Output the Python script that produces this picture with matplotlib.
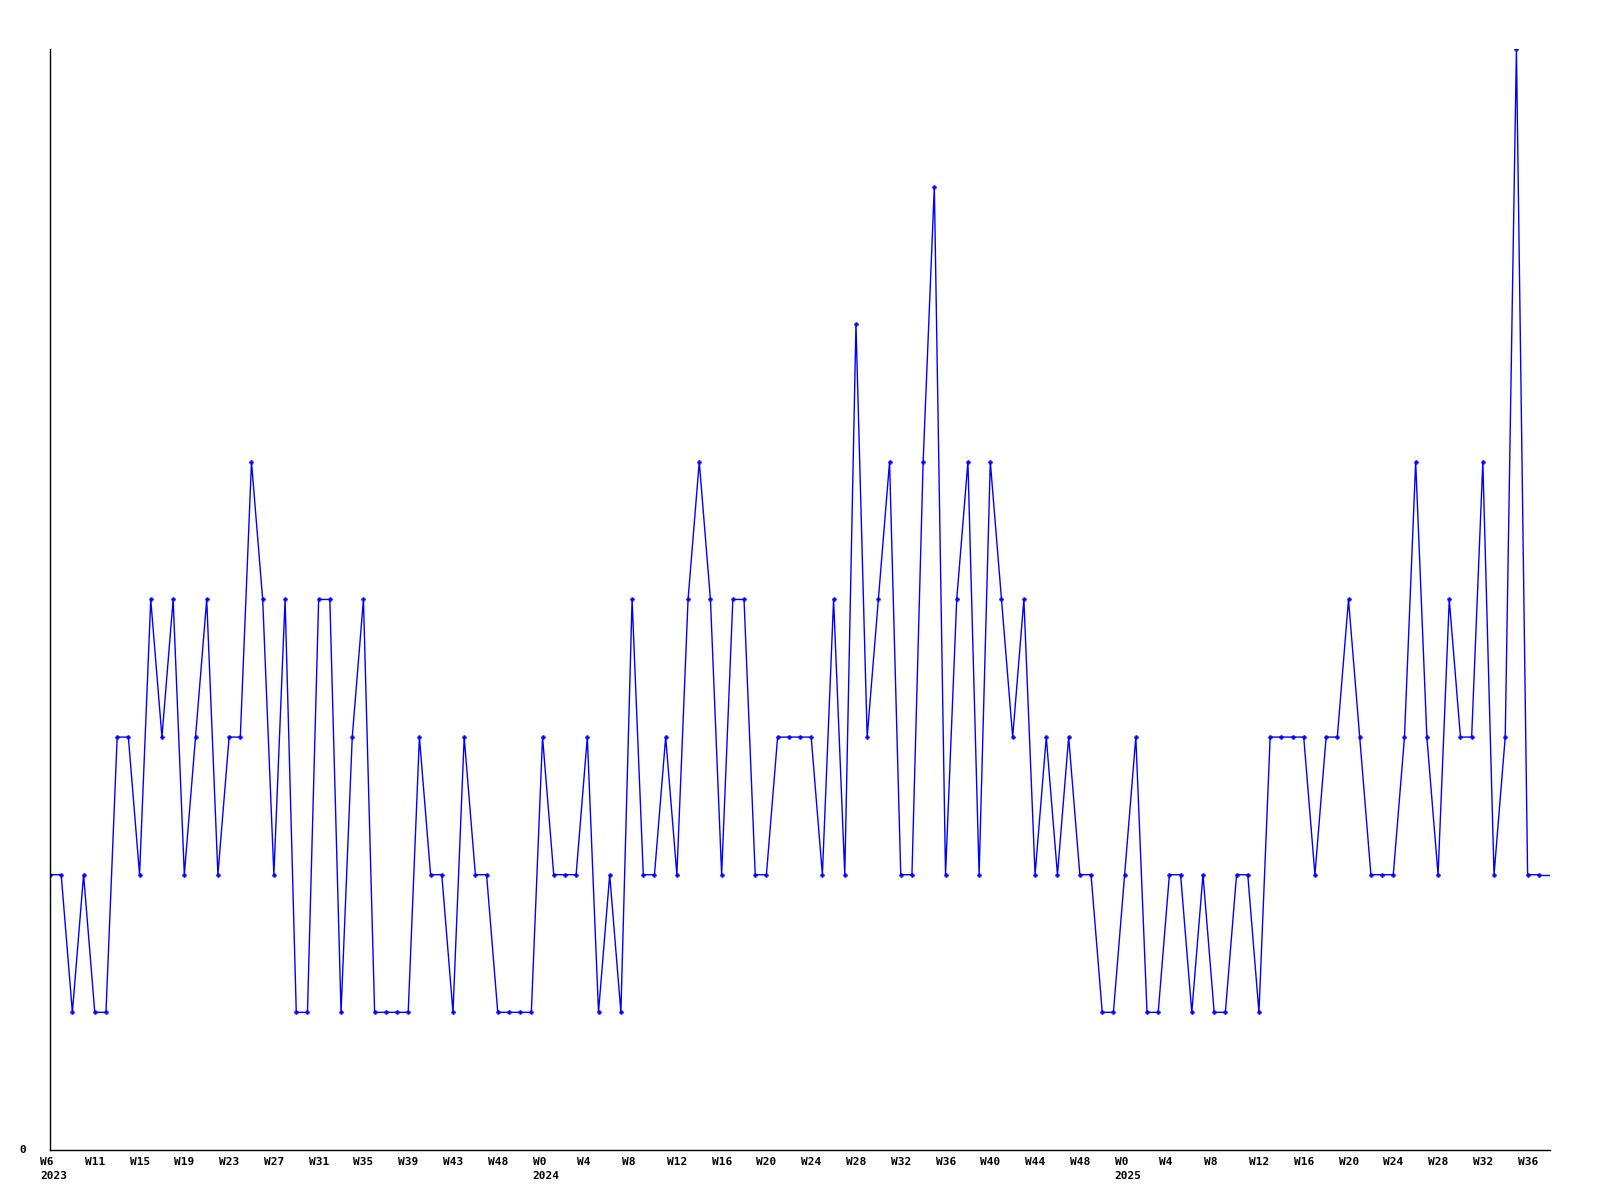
import matplotlib
matplotlib.use("Agg")
import matplotlib.pyplot as plt
import matplotlib.transforms as mtransforms

# weekly counts, 2023 W6 .. 2025 W37
counts = [2, 2, 1, 2, 1, 1, 3, 3, 2, 4,
          3, 4, 2, 3, 4, 2, 3, 3, 5, 4,
          2, 4, 1, 1, 4, 4, 1, 3, 4, 1,
          1, 1, 1, 3, 2, 2, 1, 3, 2, 2,
          1, 1, 1, 1, 3, 2, 2, 2, 3, 1,
          2, 1, 4, 2, 2, 3, 2, 4, 5, 4,
          2, 4, 4, 2, 2, 3, 3, 3, 3, 2,
          4, 2, 6, 3, 4, 5, 2, 2, 5, 7,
          2, 4, 5, 2, 5, 4, 3, 4, 2, 3,
          2, 3, 2, 2, 1, 1, 2, 3, 1, 1,
          2, 2, 1, 2, 1, 1, 2, 2, 1, 3,
          3, 3, 3, 2, 3, 3, 4, 3, 2, 2,
          2, 3, 5, 3, 2, 4, 3, 3, 5, 2,
          3, 8, 2, 2]

tick_labels = ["W6\n2023", "W11", "W15", "W19", "W23", "W27", "W31", "W35",
               "W39", "W43", "W48", "W0\n2024", "W4", "W8", "W12", "W16",
               "W20", "W24", "W28", "W32", "W36", "W40", "W44", "W48",
               "W0\n2025", "W4", "W8", "W12", "W16", "W20", "W24", "W28",
               "W32", "W36"]

x = list(range(len(counts)))
x_end = len(counts)
tick_pos = [4 * i for i in range(len(tick_labels))]

fig = plt.figure(figsize=(16, 12), dpi=100)
ax = fig.add_axes([0.03125, 0.0417, 0.9375, 0.9175])

ax.plot(x, counts, color="#0000ff", linewidth=1.0, marker="P",
        markersize=3, markeredgewidth=0.3)
# series runs on to the right edge at its last value
ax.plot([x[-1], x_end], [counts[-1], counts[-1]], color="#0000ff", linewidth=1.0)

ax.set_xlim(0, x_end)
ax.set_ylim(0, max(counts))

for s in ["top", "right"]:
    ax.spines[s].set_visible(False)
ax.spines["left"].set_linewidth(1.0)
ax.spines["bottom"].set_linewidth(1.0)

ax.set_xticks(tick_pos)
ax.set_xticklabels(tick_labels, fontsize=8, fontweight="bold",
                   family="DejaVu Sans Mono", ha="left", va="top",
                   linespacing=1.5)
ax.tick_params(axis="x", length=0, pad=5)
off = mtransforms.ScaledTranslation(-10 / 100, 0, fig.dpi_scale_trans)
for lab in ax.get_xticklabels():
    lab.set_transform(lab.get_transform() + off)

ax.set_yticks([0])
ax.set_yticklabels(["0"], fontsize=8, fontweight="bold",
                   family="DejaVu Sans Mono", va="center")
ax.tick_params(axis="y", length=0, pad=17)

fig.savefig("out.png", dpi=100)
